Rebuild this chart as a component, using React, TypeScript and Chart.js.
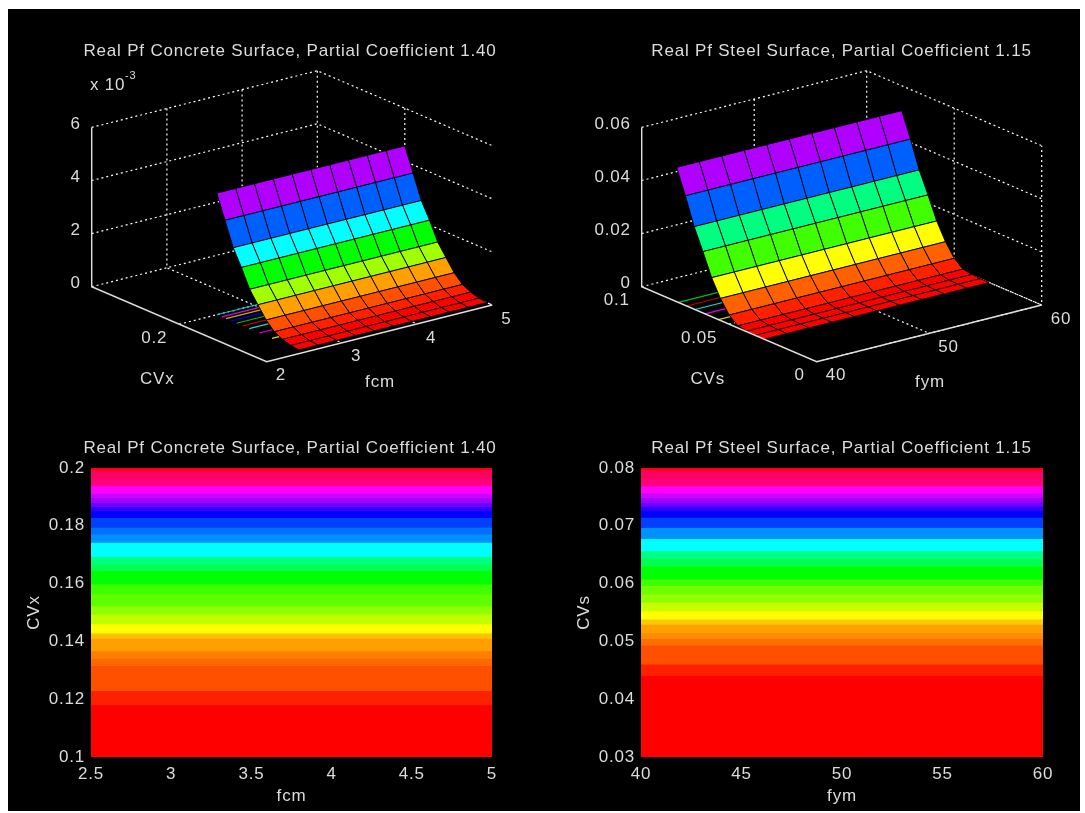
import React, { useEffect, useRef } from "react";
import { Chart, registerables } from "chart.js";

Chart.register(...registerables);

// ---------- data ----------
const concreteTitle = "Real Pf Concrete Surface, Partial Coefficient 1.40";
const steelTitle = "Real Pf Steel Surface, Partial Coefficient 1.15";

const fcmGrid = [2.5, 2.75, 3, 3.25, 3.5, 3.75, 4, 4.25, 4.5, 4.75, 5];
const cvxGrid = [0.2, 0.1906, 0.1812, 0.1718, 0.1624, 0.153, 0.1436, 0.1342, 0.1248, 0.1154, 0.106];
const concretePf = [0.00458, 0.00369, 0.00279, 0.00218, 0.00149, 0.00104, 0.0006, 0.00029, 0.000135, 0.00004, 0.00001];
const concreteRowColors = ["#b000ff", "#0060ff", "#00ffff", "#00ff00", "#a0ff00", "#ffa000", "#ff5000", "#ff2000", "#ff0000", "#ff0000"];
const concreteContourCv = [0.2, 0.1945, 0.1895, 0.1838, 0.1774, 0.1705, 0.1629, 0.1514, 0.1369];
const concreteContourColors = ["#00c0c0", "#e000e0", "#c0b000", "#0000e0", "#00c000", "#c00000", "#00e0e0", "#e000e0", "#e0e000"];

const fymGrid = [40, 42, 44, 46, 48, 50, 52, 54, 56, 58, 60];
const cvsGrid = [0.08, 0.075, 0.07, 0.065, 0.06, 0.055, 0.05, 0.045, 0.04, 0.035, 0.03];
const steelPf = [0.0506, 0.0413, 0.0311, 0.0231, 0.0147, 0.0083, 0.00345, 0.0008, 0.0002, 0.00005, 0];
const steelRowColors = ["#b000ff", "#0060ff", "#00ff80", "#40ff00", "#ffff00", "#ff6000", "#ff2000", "#ff0000", "#ff0000", "#ff0000"];
const steelContourCv = [0.079, 0.0743, 0.0696, 0.0638, 0.0562];
const steelContourColors = ["#00c000", "#c00000", "#00e0e0", "#e000e0", "#d0d000"];

const concreteBandTops = [0.2, 0.1992, 0.1962, 0.1937, 0.1911, 0.1896, 0.1879, 0.1865, 0.185, 0.1827, 0.1793, 0.177, 0.1741, 0.1692, 0.1666, 0.1643, 0.1597, 0.1562, 0.1522, 0.1493, 0.1459, 0.1427, 0.1409, 0.1366, 0.134, 0.1315, 0.1228, 0.1179];
const steelBandTops = [0.08, 0.0796, 0.0781, 0.0768, 0.0756, 0.0748, 0.074, 0.0733, 0.0725, 0.0714, 0.0696, 0.0677, 0.0656, 0.0642, 0.0629, 0.0607, 0.0596, 0.0581, 0.0567, 0.0552, 0.0538, 0.0529, 0.0514, 0.0504, 0.0493, 0.046, 0.044];
const concreteBandColors = ["#ff0000", "#ff0060", "#ff0080", "#ff00ff", "#d000ff", "#a000ff", "#7000ff", "#3000ff", "#0000ff", "#0040ff", "#0070ff", "#0090ff", "#00ffff", "#00ff80", "#00ff50", "#00ff00", "#40ff00", "#60ff00", "#90ff00", "#c0ff00", "#ffff00", "#ffc000", "#ffa000", "#ff8000", "#ff6800", "#ff5000", "#ff2000", "#ff0000"];
const steelBandColors = ["#ff0000", "#ff0060", "#ff0080", "#ff00ff", "#d000ff", "#a000ff", "#7000ff", "#3000ff", "#0000ff", "#0040ff", "#0090ff", "#00ffff", "#00ff80", "#00ff50", "#00ff00", "#40ff00", "#70ff00", "#90ff00", "#c8ff00", "#ffff00", "#ffc800", "#ffa000", "#ff8c00", "#ff6e00", "#ff5000", "#ff2000", "#ff0000"];

// ---------- styling / layout ----------
const FONT = "'Liberation Sans', Arial, sans-serif";
const FONT_SIZE = 17;
const LETTER_SPACING = "0.8px";
const TEXT = "#dcdcdc";
const AXIS = "#e0e0e0";
const GRID = "#ffffff";
const ORIGIN = { x: 8, y: 9 };
const STAGE = { w: 1072, h: 802 };

type Pt = [number, number];
type Spec3D = {
  title: string;
  left: number; top: number; width: number; height: number;
  near: Pt; leftCorner: Pt; rightCorner: Pt; zHeight: number;
  xRange: Pt; yRange: Pt; zRange: Pt;
  xTicks: number[]; yTicks: number[]; zTicks: number[];
  zLabels: string[];
  xName: string; yName: string; xNamePos: Pt; yNamePos: Pt;
  xs: number[]; ys: number[]; zs: number[]; rowColors: string[];
  contourCv: number[]; contourColors: string[];
  exponent?: boolean;
};

const specA: Spec3D = {
  title: concreteTitle,
  left: 8, top: 9, width: 564, height: 411,
  near: [266.7, 361.7], leftCorner: [91.7, 286.7], rightCorner: [492.3, 305], zHeight: 159.3,
  xRange: [2, 5], yRange: [0.1, 0.3], zRange: [0, 0.006],
  xTicks: [2, 3, 4, 5], yTicks: [0.2], zTicks: [0, 0.002, 0.004, 0.006],
  zLabels: ["0", "2", "4", "6"],
  xName: "fcm", yName: "CVx", xNamePos: [380, 382.7], yNamePos: [157.3, 379.3],
  xs: fcmGrid, ys: cvxGrid, zs: concretePf, rowColors: concreteRowColors,
  contourCv: concreteContourCv, contourColors: concreteContourColors,
  exponent: true,
};
const specB: Spec3D = {
  title: steelTitle,
  left: 570, top: 9, width: 543, height: 411,
  near: [816.7, 361.7], leftCorner: [641.7, 286.7], rightCorner: [1041.7, 305], zHeight: 159.3,
  xRange: [40, 60], yRange: [0, 0.1], zRange: [0, 0.06],
  xTicks: [40, 50, 60], yTicks: [0, 0.05, 0.1], zTicks: [0, 0.02, 0.04, 0.06],
  zLabels: ["0", "0.02", "0.04", "0.06"],
  xName: "fym", yName: "CVs", xNamePos: [930, 382.7], yNamePos: [707.7, 379.3],
  xs: fymGrid, ys: cvsGrid, zs: steelPf, rowColors: steelRowColors,
  contourCv: steelContourCv, contourColors: steelContourColors,
};

type SpecMap = {
  title: string; left: number; top: number; width: number; height: number;
  plotLeft: number; plotRight: number; yNamePad: number;
  xMin: number; xMax: number; xStep: number; yMin: number; yMax: number; yStep: number;
  xName: string; yName: string; bandTops: number[]; bandColors: string[];
};
const specC: SpecMap = {
  title: concreteTitle, left: 8, top: 430, width: 564, height: 381,
  plotLeft: 83, plotRight: 80, yNamePad: 16,
  xMin: 2.5, xMax: 5, xStep: 0.5, yMin: 0.1, yMax: 0.2, yStep: 0.02,
  xName: "fcm", yName: "CVx", bandTops: concreteBandTops, bandColors: concreteBandColors,
};
const specD: SpecMap = {
  title: steelTitle, left: 570, top: 430, width: 543, height: 381,
  plotLeft: 71, plotRight: 70, yNamePad: 4,
  xMin: 40, xMax: 60, xStep: 5, yMin: 0.03, yMax: 0.08, yStep: 0.01,
  xName: "fym", yName: "CVs", bandTops: steelBandTops, bandColors: steelBandColors,
};

const font = { family: FONT, size: FONT_SIZE, lineHeight: "20px" as any, weight: "normal" as const };
const quiet = {
  legend: { display: false },
  tooltip: { enabled: false },
};
const spacing = {
  id: "letterSpacing",
  beforeInit(chart: any) { chart.ctx.letterSpacing = LETTER_SPACING; },
  beforeLayout(chart: any) { chart.ctx.letterSpacing = LETTER_SPACING; },
  beforeDraw(chart: any) { chart.ctx.letterSpacing = LETTER_SPACING; },
};
const tickText = (v: number) => String(Number(v.toFixed(4)));

function build3D(canvas: HTMLCanvasElement, s: Spec3D) {
  const ox = s.left, oy = s.top;
  const project = (x: number, y: number, z: number) => {
    const tx = (x - s.xRange[0]) / (s.xRange[1] - s.xRange[0]);
    const ty = (y - s.yRange[0]) / (s.yRange[1] - s.yRange[0]);
    const tz = (z - s.zRange[0]) / (s.zRange[1] - s.zRange[0]);
    return {
      x: s.near[0] + tx * (s.rightCorner[0] - s.near[0]) + ty * (s.leftCorner[0] - s.near[0]) - ox,
      y: s.near[1] + tx * (s.rightCorner[1] - s.near[1]) + ty * (s.leftCorner[1] - s.near[1]) - tz * s.zHeight - oy,
    };
  };
  const [x0, x1] = s.xRange, [y0, y1] = s.yRange, [z0, z1] = s.zRange;
  const line = (data: any[], color: string, dash: number[] = [], width = 1) => ({
    data, showLine: true, fill: false, borderColor: color, borderWidth: width, borderDash: dash,
    pointRadius: 0, tension: 0,
  });

  const datasets: any[] = [];
  // solid axes (drawn last, so listed first)
  datasets.push(line([project(x0, y1, z1), project(x0, y1, z0), project(x0, y0, z0), project(x1, y0, z0)], AXIS, [], 1.4));
  // surface, front rows first because Chart.js paints later datasets underneath
  for (let r = s.ys.length - 2; r >= 0; r--) {
    for (let c = 0; c < s.xs.length - 1; c++) {
      const a = project(s.xs[c], s.ys[r], s.zs[r]);
      const b = project(s.xs[c + 1], s.ys[r], s.zs[r]);
      const d = project(s.xs[c + 1], s.ys[r + 1], s.zs[r + 1]);
      const e = project(s.xs[c], s.ys[r + 1], s.zs[r + 1]);
      datasets.push({
        data: [a, b, d, e, a], showLine: true, fill: "shape", backgroundColor: s.rowColors[r],
        borderColor: "#000000", borderWidth: 0.9, pointRadius: 0, tension: 0,
      });
    }
  }
  // contour lines on the floor
  s.contourCv.forEach((cv, i) => {
    datasets.push(line([project(s.xs[0], cv, z0), project(s.xs[s.xs.length - 1], cv, z0)], s.contourColors[i], [], 1.2));
  });
  // dotted grid
  const dash = [2, 3];
  const gw = 1.2;
  s.zTicks.forEach((z) => {
    datasets.push(line([project(x0, y1, z), project(x1, y1, z), project(x1, y0, z)], GRID, dash, gw));
  });
  s.xTicks.forEach((x) => {
    if (x !== x0) datasets.push(line([project(x, y1, z1), project(x, y1, z0), project(x, y0, z0)], GRID, dash, gw));
  });
  s.yTicks.forEach((y) => {
    if (y !== y1) datasets.push(line([project(x0, y, z0), project(x1, y, z0), project(x1, y, z1)], GRID, dash, gw));
  });

  const labels = {
    id: "axisText3D",
    afterDatasetsDraw(chart: any) {
      const ctx = chart.ctx;
      const sx = chart.scales.x, sy = chart.scales.y;
      const put = (t: string, p: { x: number; y: number }, dx: number, dy: number, align: CanvasTextAlign, size = FONT_SIZE) => {
        ctx.font = `${size}px ${FONT}`;
        ctx.fillStyle = TEXT;
        ctx.textAlign = align;
        ctx.textBaseline = "middle";
        ctx.fillText(t, sx.getPixelForValue(p.x) + dx, sy.getPixelForValue(p.y) + dy);
      };
      ctx.save();
      s.zTicks.forEach((z, i) => put(s.zLabels[i], project(x0, y1, z), -11, -3.5, "right"));
      s.xTicks.forEach((x) => put(String(x), project(x, y0, z0), 9, 14, "left"));
      s.yTicks.forEach((y) => put(String(y), project(x0, y, z0), -12, 14, "right"));
      put(s.xName, { x: s.xNamePos[0] - ox, y: s.xNamePos[1] - oy }, 0, 0, "center");
      put(s.yName, { x: s.yNamePos[0] - ox, y: s.yNamePos[1] - oy }, 0, 0, "center");
      if (s.exponent) {
        put("x 10", { x: 90 - ox, y: 85 - oy }, 0, 0, "left");
        put("-3", { x: 125 - ox, y: 76 - oy }, 0, 0, "left", 11);
      }
      ctx.restore();
    },
  };

  return new Chart(canvas, {
    type: "scatter",
    data: { datasets },
    plugins: [spacing, labels],
    options: {
      animation: false, responsive: false, events: [],
      layout: { padding: 0 },
      plugins: {
        ...quiet,
        title: { display: true, text: s.title, color: TEXT, font, padding: { top: 32, bottom: 8 } },
      },
      scales: {
        x: { type: "linear", display: false, min: 0, max: s.width },
        y: { type: "linear", display: false, reverse: true, min: 60, max: s.height },
      },
    },
  } as any);
}

function buildMap(canvas: HTMLCanvasElement, s: SpecMap) {
  // Later datasets paint underneath, so the lowest band comes first.
  const datasets = s.bandTops.map((top, i) => ({
    data: [{ x: s.xMin, y: top }, { x: s.xMax, y: top }],
    showLine: true, fill: "start", backgroundColor: s.bandColors[i], borderWidth: 0, pointRadius: 0,
  })).reverse();
  const tick = { color: TEXT, font: { family: FONT, size: FONT_SIZE } };
  return new Chart(canvas, {
    type: "scatter",
    data: { datasets },
    plugins: [spacing],
    options: {
      animation: false, responsive: false, events: [],
      layout: { padding: 0 },
      plugins: {
        ...quiet,
        title: { display: true, text: s.title, color: TEXT, font, padding: { top: 8, bottom: 10 } },
      },
      scales: {
        x: {
          type: "linear", min: s.xMin, max: s.xMax,
          grid: { display: false }, border: { display: false },
          ticks: { ...tick, stepSize: s.xStep, autoSkip: false, maxRotation: 0, padding: -1, callback: tickText },
          title: { display: true, text: s.xName, color: TEXT, font: { family: FONT, size: FONT_SIZE }, padding: { top: 2, bottom: 4 } },
          afterFit: (a: any) => { a.height = 54; },
        },
        y: {
          type: "linear", min: s.yMin, max: s.yMax,
          grid: { display: false }, border: { display: false },
          ticks: { ...tick, stepSize: s.yStep, autoSkip: false, padding: -2, callback: tickText },
          title: { display: true, text: s.yName, color: TEXT, font: { family: FONT, size: FONT_SIZE }, padding: { top: s.yNamePad, bottom: 0 } },
          afterFit: (a: any) => { a.width = s.plotLeft; },
        },
        // An empty right-hand gutter keeps the plot off-centre while the title stays centred on the canvas.
        gutter: {
          type: "linear", position: "right", axis: "y",
          grid: { display: false }, border: { display: false }, ticks: { display: false },
          afterFit: (a: any) => { a.width = s.plotRight; },
        },
      },
    },
  } as any);
}

function Panel3D({ spec }: { spec: Spec3D }) {
  const ref = useRef<HTMLCanvasElement>(null);
  useEffect(() => {
    const c = build3D(ref.current!, spec);
    return () => c.destroy();
  }, [spec]);
  return <canvas ref={ref} width={spec.width} height={spec.height}
    style={{ position: "absolute", left: spec.left - ORIGIN.x, top: spec.top - ORIGIN.y, width: spec.width, height: spec.height }} />;
}

function PanelMap({ spec }: { spec: SpecMap }) {
  const ref = useRef<HTMLCanvasElement>(null);
  useEffect(() => {
    const c = buildMap(ref.current!, spec);
    return () => c.destroy();
  }, [spec]);
  return <canvas ref={ref} width={spec.width} height={spec.height}
    style={{ position: "absolute", left: spec.left - ORIGIN.x, top: spec.top - ORIGIN.y, width: spec.width, height: spec.height }} />;
}

export default function App() {
  return (
    <div style={{ position: "absolute", left: ORIGIN.x, top: ORIGIN.y, width: STAGE.w, height: STAGE.h, background: "#000", overflow: "hidden" }}>
      <Panel3D spec={specA} />
      <Panel3D spec={specB} />
      <PanelMap spec={specC} />
      <PanelMap spec={specD} />
    </div>
  );
}
